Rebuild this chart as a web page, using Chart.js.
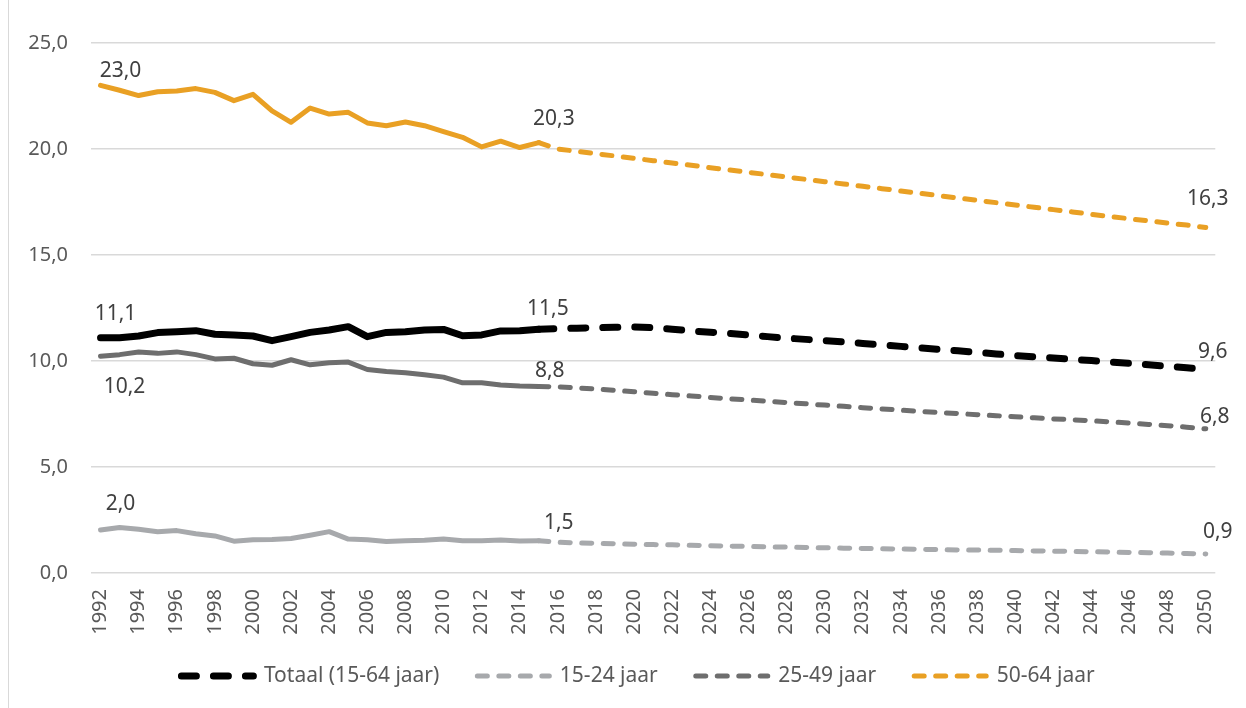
<!DOCTYPE html>
<html>
<head>
<meta charset="utf-8">
<script src="https://cdn.jsdelivr.net/npm/chart.js@4.4.1/dist/chart.umd.min.js"></script>
<style>
  body { margin: 0; background: #fff; }
  #wrap { position: relative; width: 1246px; height: 708px; }
  #edge { position: absolute; left: 8px; top: 0; width: 1px; height: 708px; background: #d9d9d9; }
</style>
</head>
<body>
<div id="wrap">
  <div id="edge"></div>
  <canvas id="werkChart" width="1246" height="708"></canvas>
</div>
<script>
// years on the category axis, 1992 - 2050
const years = [];
for (let y = 1992; y <= 2050; y++) years.push(String(y));

// measured part, 1992 - 2015
const totaalHist  = [11.1, 11.1, 11.18, 11.34, 11.38, 11.43, 11.26, 11.23, 11.18, 10.96, 11.15, 11.35,
                     11.46, 11.62, 11.15, 11.35, 11.38, 11.46, 11.49, 11.19, 11.23, 11.42, 11.43, 11.5];
const jeugdHist   = [2.03, 2.15, 2.06, 1.95, 2.0, 1.85, 1.75, 1.5, 1.57, 1.58, 1.63, 1.78,
                     1.95, 1.6, 1.57, 1.49, 1.52, 1.54, 1.6, 1.52, 1.52, 1.56, 1.51, 1.52];
const middenHist  = [10.22, 10.3, 10.42, 10.36, 10.43, 10.3, 10.1, 10.13, 9.87, 9.8, 10.06, 9.82,
                     9.92, 9.95, 9.6, 9.5, 9.45, 9.35, 9.24, 8.97, 8.97, 8.87, 8.82, 8.8];
const ouderenHist = [23.0, 22.77, 22.52, 22.7, 22.74, 22.85, 22.67, 22.28, 22.58, 21.8, 21.26, 21.93,
                     21.65, 21.73, 21.23, 21.1, 21.27, 21.1, 20.82, 20.55, 20.1, 20.37, 20.07, 20.3];

// projection, 2015 - 2050
const totaalProj  = [11.5, 11.52, 11.55, 11.57, 11.59, 11.6, 11.57, 11.5, 11.42, 11.36, 11.3, 11.23,
                     11.15, 11.08, 11.02, 10.96, 10.9, 10.83, 10.76, 10.69, 10.62, 10.55, 10.48, 10.41,
                     10.33, 10.26, 10.2, 10.14, 10.08, 10.02, 9.95, 9.89, 9.82, 9.75, 9.68, 9.6];
const jeugdProj   = [1.52, 1.45, 1.42, 1.4, 1.38, 1.36, 1.34, 1.33, 1.31, 1.29, 1.27, 1.25,
                     1.23, 1.22, 1.2, 1.19, 1.17, 1.16, 1.14, 1.13, 1.12, 1.1, 1.09, 1.08,
                     1.07, 1.06, 1.04, 1.03, 1.02, 1.0, 0.99, 0.97, 0.96, 0.94, 0.92, 0.9];
const middenProj  = [8.8, 8.78, 8.73, 8.68, 8.61, 8.55, 8.48, 8.41, 8.35, 8.28, 8.22, 8.16,
                     8.1, 8.04, 7.98, 7.92, 7.86, 7.8, 7.74, 7.68, 7.62, 7.57, 7.52, 7.47,
                     7.42, 7.37, 7.32, 7.27, 7.23, 7.18, 7.13, 7.07, 7.01, 6.95, 6.88, 6.8];
const ouderenProj = [20.3, 20.0, 19.89, 19.78, 19.67, 19.56, 19.45, 19.34, 19.23, 19.12, 19.01, 18.9,
                     18.79, 18.68, 18.57, 18.46, 18.35, 18.24, 18.13, 18.02, 17.91, 17.8, 17.69, 17.58,
                     17.47, 17.36, 17.25, 17.14, 17.03, 16.92, 16.81, 16.71, 16.61, 16.51, 16.41, 16.3];

const seriesNames = ['Totaal (15-64 jaar)', '15-24 jaar', '25-49 jaar', '50-64 jaar'];
const yTicks = [0, 5, 10, 15, 20, 25];

const colors = ['#000000', '#a7a9ac', '#6e6e6e', '#e9a024'];
const widths = [7, 5, 5, 5];
const dashes = [[15, 17], [10, 11.5], [10, 11.5], [10, 11.5]];

const firstProj = years.indexOf('2015');

function fmt(v) { return v.toFixed(1).replace('.', ','); }

// pad the short arrays with nulls so they fit on the full year axis
function histSeries(arr) {
    return years.map((y, i) => i < arr.length ? arr[i] : null);
}
function projSeries(arr) {
    return years.map((y, i) => i >= firstProj ? arr[i - firstProj] : null);
}

// where the value labels go, relative to the point (1992 = hist, 2015/2050 = proj)
const histLabels = [
    [{ idx: 0, dx: 15, dy: -24 }],
    [{ idx: 0, dx: 20, dy: -26 }],
    [{ idx: 0, dx: 24, dy: 31 }],
    [{ idx: 0, dx: 20, dy: -14 }]
];
const projLabels = [
    [{ idx: 23, dx: 9, dy: -20 }, { idx: 58, dx: 7, dy: -17 }],
    [{ idx: 23, dx: 20, dy: -18 }, { idx: 58, dx: 12, dy: -22 }],
    [{ idx: 23, dx: 11, dy: -15 }, { idx: 58, dx: 9, dy: -12 }],
    [{ idx: 23, dx: 15, dy: -24 }, { idx: 58, dx: 2, dy: -28 }]
];

const histData = [totaalHist, jeugdHist, middenHist, ouderenHist];
const projData = [totaalProj, jeugdProj, middenProj, ouderenProj];

let datasets = [];
// dashed projection first, these are the legend entries
projData.forEach((arr, i) => {
    datasets.push({
        label: seriesNames[i],
        data: projSeries(arr),
        borderColor: colors[i],
        backgroundColor: colors[i],
        borderWidth: widths[i],
        borderDash: dashes[i],
        borderCapStyle: 'round',
        pointRadius: 0,
        tension: 0,
        labelAt: projLabels[i]
    });
});
histData.forEach((arr, i) => {
    datasets.push({
        label: seriesNames[i] + ' hist',
        hist: true,
        data: histSeries(arr),
        borderColor: colors[i],
        backgroundColor: colors[i],
        borderWidth: widths[i],
        borderCapStyle: 'round',
        borderJoinStyle: 'round',
        pointRadius: 0,
        tension: 0,
        labelAt: histLabels[i]
    });
});

const valueLabels = {
    id: 'valueLabels',
    afterDatasetsDraw(chart) {
        const ctx = chart.ctx;
        ctx.save();
        ctx.font = '21px "Noto Sans"';
        ctx.fillStyle = '#404040';
        ctx.textAlign = 'center';
        ctx.textBaseline = 'middle';
        chart.data.datasets.forEach((ds, i) => {
            if (!ds.labelAt) return;
            const meta = chart.getDatasetMeta(i);
            ds.labelAt.forEach(l => {
                const pt = meta.data[l.idx];
                ctx.fillText(fmt(ds.data[l.idx]), pt.x + l.dx, pt.y + l.dy);
            });
        });
        ctx.restore();
    }
};

// legend sits a bit right of the canvas middle and a bit higher, like in the original
const legendShift = {
    id: 'legendShift',
    afterLayout(chart) {
        chart.legend.left += 29;
        chart.legend.right += 29;
        chart.legend.top -= 8.5;
        chart.legend.bottom -= 8.5;
    }
};

Chart.defaults.font.family = '"Noto Sans", sans-serif';
Chart.defaults.color = '#595959';

const ctx = document.getElementById('werkChart').getContext('2d');
const myChart = new Chart(ctx, {
    type: 'line',
    data: { labels: years, datasets: datasets },
    plugins: [valueLabels, legendShift],
    options: {
        responsive: false,
        animation: false,
        devicePixelRatio: 1,
        layout: { padding: { left: 0, right: 28, top: 43, bottom: 3 } },
        plugins: {
            tooltip: { enabled: false },
            legend: {
                position: 'bottom',
                labels: {
                    usePointStyle: true,
                    pointStyle: 'line',
                    pointStyleWidth: 72,
                    padding: 38,
                    color: '#595959',
                    font: { size: 21 },
                    filter: (item, data) => !data.datasets[item.datasetIndex].hist,
                    // point style drops the dash, so put it back from the dataset
                    generateLabels: function (chart) {
                        const items = Chart.defaults.plugins.legend.labels.generateLabels(chart);
                        items.forEach(it => {
                            const ds = chart.data.datasets[it.datasetIndex];
                            it.lineDash = ds.borderDash || [];
                            it.lineCap = 'round';
                            it.strokeStyle = ds.borderColor;
                            it.fillStyle = ds.borderColor;
                            it.lineWidth = ds.borderWidth;
                        });
                        return items;
                    }
                }
            }
        },
        scales: {
            x: {
                offset: true,
                grid: { display: false, drawTicks: false },
                border: { display: false },
                afterFit: s => { s.height = 63; },
                ticks: {
                    autoSkip: false,
                    maxRotation: 90,
                    minRotation: 90,
                    padding: 16,
                    font: { size: 20 },
                    color: '#595959',
                    callback: function (val, i) { return i % 2 === 0 ? years[i] : null; }
                }
            },
            y: {
                min: 0,
                max: 25,
                afterFit: s => { s.width = 91; },
                afterBuildTicks: s => { s.ticks = yTicks.map(v => ({ value: v })); },
                grid: { color: '#d9d9d9', lineWidth: 1.5, drawTicks: false },
                border: { display: false },
                ticks: {
                    padding: 23,
                    font: { size: 20 },
                    color: '#595959',
                    callback: v => fmt(v)
                }
            }
        }
    }
});
</script>
</body>
</html>
